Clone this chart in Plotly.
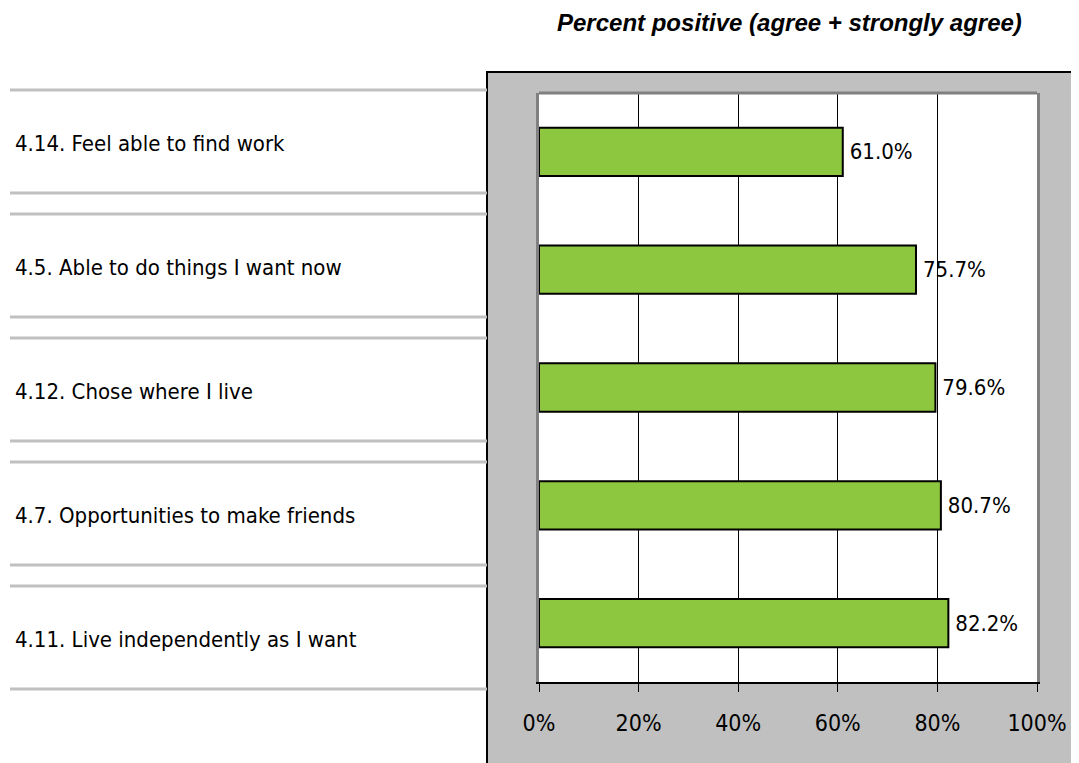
import plotly.graph_objects as go

# Data
categories = [
    "4.14. Feel able to find work",
    "4.5. Able to do things I want now",
    "4.12. Chose where I live",
    "4.7. Opportunities to make friends",
    "4.11. Live independently as I want",
]
percent_positive = [61.0, 75.7, 79.6, 80.7, 82.2]
tick_values = [0, 20, 40, 60, 80, 100]
tick_labels = ["0%", "20%", "40%", "60%", "80%", "100%"]
title_text = "Percent positive (agree + strongly agree)"

# Screen geometry (pixels). The page body has an 8px margin, so the
# figure itself is shifted by that much.
W, H = 1079, 763
OFF = 8
L, R, T, B = 539, 1037, 93, 682


def px(x):
    return (x - L) / (R - L)


def py(y):
    return (B - y) / (B - T)


NARROW = "'Liberation Sans Narrow', 'Arial Narrow', 'DejaVu Sans Condensed', sans-serif"
GREEN = "#8DC63F"
PANEL = "#C0C0C0"

fig = go.Figure()

fig.add_trace(go.Bar(
    y=categories,
    x=percent_positive,
    orientation="h",
    marker=dict(color=GREEN, line=dict(color="black", width=2)),
    texttemplate="\u2009%{x:.1f}%",
    textposition="outside",
    textfont=dict(family=NARROW, size=22, color="black"),
    cliponaxis=False,
    hoverinfo="skip",
))

shapes = [
    # grey chart panel
    dict(type="rect", xref="paper", yref="paper",
         x0=px(487), x1=px(1095), y0=py(780), y1=py(72),
         fillcolor=PANEL, line=dict(color="black", width=2), layer="below"),
    # white plot area
    dict(type="rect", xref="paper", yref="paper",
         x0=0, x1=1, y0=0, y1=1,
         fillcolor="white", line=dict(width=0), layer="below"),
    # top border of plot area
    dict(type="line", xref="paper", yref="paper",
         x0=0, x1=1, y0=1, y1=1,
         line=dict(color="#808080", width=3), layer="above"),
]

# left-hand table: a row per item with a grey rule above and below
annotations = []
row_top, row_pitch, row_height = 90, 124, 103
for i, label in enumerate(categories):
    top = row_top + i * row_pitch
    bottom = top + row_height
    for yy in (top, bottom):
        shapes.append(dict(type="line", xref="paper", yref="paper",
                           x0=px(10), x1=px(487), y0=py(yy), y1=py(yy),
                           line=dict(color=PANEL, width=3)))
    annotations.append(dict(
        text=label, xref="paper", yref="paper",
        x=px(13), y=py((top + bottom) / 2 + 2),
        xanchor="left", yanchor="middle", showarrow=False,
        font=dict(family=NARROW, size=22, color="black"),
    ))

annotations.append(dict(
    text=f"<b><i>{title_text}</i></b>", xref="paper", yref="paper",
    x=px(789), y=py(22), xanchor="center", yanchor="middle", showarrow=False,
    font=dict(family="'Liberation Sans', Arial, sans-serif", size=24, color="black"),
))

fig.update_layout(
    width=W - OFF, height=H - OFF,
    margin=dict(l=L - OFF, r=W - R, t=T - OFF, b=H - B, pad=0),
    paper_bgcolor="white",
    plot_bgcolor="rgba(0,0,0,0)",
    showlegend=False,
    bargap=0.59,
    shapes=shapes,
    annotations=annotations,
    xaxis=dict(
        range=[0, 100], tickvals=tick_values, ticktext=tick_labels,
        showgrid=True, gridcolor="black", gridwidth=1, zeroline=False,
        showline=True, linecolor="black", linewidth=2,
        ticks="outside", ticklen=8, tickcolor="black", tickwidth=1,
        ticklabelstandoff=11,
        tickfont=dict(family=NARROW, size=23, color="black"),
        fixedrange=True,
    ),
    yaxis=dict(
        categoryorder="array", categoryarray=categories, autorange="reversed",
        showticklabels=False, showgrid=False, zeroline=False, ticks="",
        showline=True, linecolor="#808080", linewidth=3, mirror=True,
        fixedrange=True,
    ),
)

fig.write_html("out.html")
